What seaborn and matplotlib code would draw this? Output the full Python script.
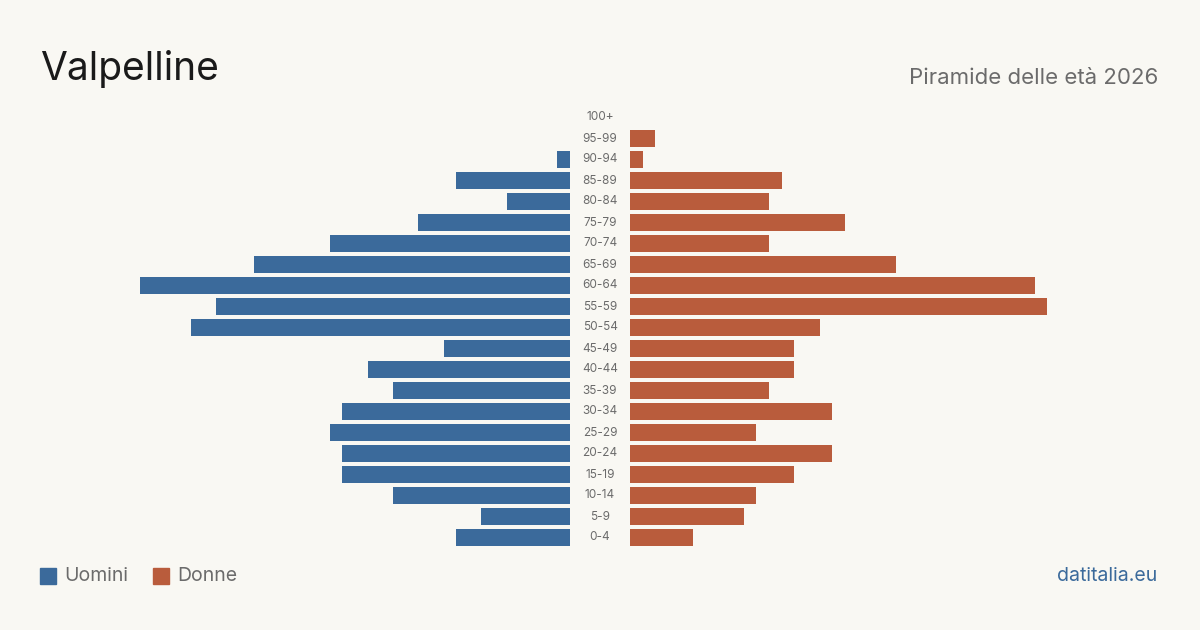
import matplotlib
matplotlib.use("Agg")
import matplotlib.pyplot as plt
import matplotlib.transforms as mtransforms
from matplotlib.patches import Rectangle
import seaborn as sns
import pandas as pd

ages = ["100+", "95-99", "90-94", "85-89", "80-84", "75-79", "70-74", "65-69",
        "60-64", "55-59", "50-54", "45-49", "40-44", "35-39", "30-34", "25-29",
        "20-24", "15-19", "10-14", "5-9", "0-4"]
uomini = [0, 0, 1, 9, 5, 12, 19, 25, 34, 28, 30, 10, 16, 14, 18, 19, 18, 18, 14, 7, 9]
donne = [0, 2, 1, 12, 11, 17, 11, 21, 32, 33, 15, 13, 13, 11, 16, 10, 16, 13, 10, 9, 5]

title = "Valpelline"
subtitle = "Piramide delle età 2026"
legend_labels = ["Uomini", "Donne"]
source = "datitalia.eu"

BG = "#f9f8f3"
BLUE = "#3b6a9b"
ORANGE = "#b95c3c"
GRAY = "#6b6b6b"

sns.set_theme(style="white")
plt.rcParams["font.family"] = ["Inter", "DejaVu Sans"]

fig = plt.figure(figsize=(12, 6.3), dpi=100)
fig.patch.set_facecolor(BG)

W, H = 1200, 630
xmax = max(max(uomini), max(donne))
top_px, bottom_px = 107.0, 548.0
ax_b = (H - bottom_px) / H
ax_h = (bottom_px - top_px) / H
axL = fig.add_axes([140 / W, ax_b, 430 / W, ax_h])
axR = fig.add_axes([630 / W, ax_b, 430 / W, ax_h])

df = pd.DataFrame({"age": ages, "uomini": uomini, "donne": donne})
sns.barplot(data=df, y="age", x="uomini", order=ages, color=BLUE, width=0.8,
            saturation=1, ax=axL, orient="h", linewidth=0, edgecolor="none")
sns.barplot(data=df, y="age", x="donne", order=ages, color=ORANGE, width=0.8,
            saturation=1, ax=axR, orient="h", linewidth=0, edgecolor="none")

axL.set_xlim(xmax, 0)
axR.set_xlim(0, xmax)
for ax in (axL, axR):
    ax.set_facecolor("none")
    ax.set_ylim(len(ages) - 0.5, -0.5)
    ax.set_xlabel("")
    ax.set_ylabel("")
    ax.set_xticks([])
    ax.set_yticks([])
    for s in ax.spines.values():
        s.set_visible(False)

trans = mtransforms.blended_transform_factory(fig.transFigure, axL.transData)
for i, a in enumerate(ages):
    fig.text(0.5, i, a, transform=trans, ha="center", va="center",
             fontsize=8.5, color=GRAY)

fig.text(40 / W, 1 - 80 / H, title, fontsize=28, color="#1a1a1a",
         ha="left", va="baseline")
fig.text(1158 / W, 1 - 84 / H, subtitle, fontsize=16, color=GRAY,
         ha="right", va="baseline")

# legend
for lab, col, x0 in zip(legend_labels, [BLUE, ORANGE], [40, 153]):
    fig.patches.append(Rectangle((x0 / W, 1 - 584 / H), 16 / W, 16 / H,
                                 transform=fig.transFigure, color=col))
    fig.text((x0 + 24) / W, 1 - 576 / H, lab, fontsize=14, color=GRAY,
             ha="left", va="center")

fig.text(1157 / W, 1 - 576 / H, source, fontsize=14, color=BLUE,
         ha="right", va="center")

fig.savefig("out.png", dpi=100, facecolor=BG)
